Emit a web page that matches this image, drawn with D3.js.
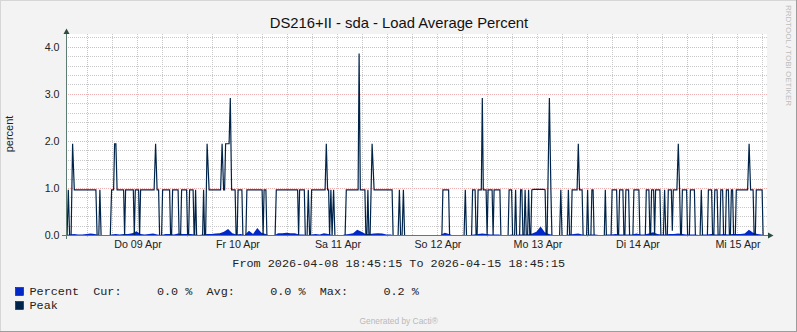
<!DOCTYPE html>
<html><head><meta charset="utf-8">
<script src="https://cdn.jsdelivr.net/npm/d3@7"></script>
<style>html,body{margin:0;padding:0;background:#f3f3f3;overflow:hidden} svg{display:block}</style>
</head><body>
<svg id="c" width="797" height="332"></svg>
<script>
// ---------------- data ----------------
const title = "DS216+II - sda - Load Average Percent";
const yAxisTitle = "percent";
const startTime = Date.UTC(2026, 3, 8, 18, 45, 15);
const endTime = Date.UTC(2026, 3, 15, 18, 45, 15);
const fromToText = "From 2026-04-08 18:45:15 To 2026-04-15 18:45:15";
const dayLabels = ["Do 09 Apr", "Fr 10 Apr", "Sa 11 Apr", "So 12 Apr", "Mo 13 Apr", "Di 14 Apr", "Mi 15 Apr"];
const yTickValues = [0, 1, 2, 3, 4];
const yTickLabels = ["0.0", "1.0", "2.0", "3.0", "4.0"];
const yMax = 4.25;
const seriesNames = ["Percent", "Peak"];
const statLabels = ["Cur:", "Avg:", "Max:"];
const statValues = [0.0, 0.0, 0.2];
const creditText = "Generated by Cacti\u00AE";
const sideText = "RRDTOOL / TOBI OETIKER";

// Peak series: hours since start -> value
const peakHours = [
  0.00, 0.36, 0.65, 0.96, 1.32, 1.68, 2.09, 7.27, 7.56, 7.97, 8.23, 8.52, 10.73, 11.04, 11.52, 11.76, 12.07, 12.36,
  13.92, 14.16, 14.40, 16.25, 16.49, 16.73, 17.52, 17.76, 18.00, 21.24, 21.60, 21.96, 22.32, 22.56, 23.04, 23.28,
  24.96, 25.20, 25.44, 25.68, 27.00, 27.24, 27.60, 27.84, 29.04, 29.28, 29.52, 29.76, 30.60, 30.84, 30.96, 31.20,
  31.44, 32.88, 33.12, 33.36, 33.60, 33.96, 34.44, 37.20, 37.56, 37.92, 38.16, 38.40, 39.24, 39.53, 39.84, 40.68,
  40.92, 41.16, 41.40, 42.31, 42.55, 43.27, 43.51,
  47.16, 47.40, 47.64, 48.07, 48.31, 50.28, 50.57, 55.68, 55.92, 56.16, 57.29, 57.53, 57.96, 58.25, 58.56, 58.80,
  59.04, 62.28, 62.57, 62.88, 63.12, 63.36, 63.67, 63.96, 64.32, 64.63, 67.08, 67.37, 70.20, 70.44, 70.73, 71.83,
  72.07, 72.31, 72.55, 72.79, 73.08, 73.56, 74.04, 78.36, 78.60, 79.80, 80.11, 80.40, 80.76, 81.07, 81.36, 90.31,
  90.55, 91.92, 92.16,
  95.64, 95.93, 96.22, 97.44, 97.68, 98.28, 98.52, 98.76, 99.00, 99.77, 100.01, 100.25, 100.92, 101.16, 101.40,
  102.36, 102.60, 102.84, 104.23, 104.47, 106.20, 106.44, 107.04, 107.28, 107.76, 108.00, 108.24, 108.96, 109.20,
  109.51, 109.75, 110.04, 110.28, 110.57, 110.88, 111.12, 111.41, 111.65, 111.89, 112.32, 114.72, 115.08, 115.32,
  115.56, 116.11, 116.47, 116.71, 118.56, 118.85, 119.14, 120.41, 120.67, 120.96, 121.32, 121.56, 122.76, 123.05,
  123.34, 123.96, 124.20, 125.04, 125.28, 125.52, 126.07, 126.31, 126.60, 126.84, 129.29, 129.53, 129.79, 130.92,
  131.16, 132.24, 132.48, 132.72, 132.96, 133.75, 133.99, 134.23, 134.47, 135.12, 135.36, 136.15, 136.39, 137.59,
  137.83, 139.13, 139.37, 139.99, 140.23, 140.40, 140.64, 141.12, 141.36, 141.60, 142.63, 142.87, 143.47, 143.76,
  144.05, 144.41, 144.65, 145.37, 145.61, 145.85, 146.71, 147.05, 147.36, 147.60, 147.79, 148.03, 149.04, 149.28,
  149.71, 149.95, 150.91, 151.15, 152.28, 152.57, 152.86, 154.03, 154.27, 155.04, 155.28, 155.57, 155.81, 156.36,
  156.60, 157.01, 157.25, 157.68, 157.92, 158.35, 158.59, 159.07, 159.31, 159.55, 159.79, 160.08, 160.32, 160.73,
  160.97, 163.68, 164.04, 164.40, 165.00, 165.24, 165.53, 165.77, 167.16, 167.40, 168.00
];
const peakValues = [
  0, 0, 0.97, 0, 0, 1.95, 0.97, 0.97, 0, 0, 0.97, 0, 0, 0.97, 0.97, 1.95, 1.95, 0.97,
  0.97, 0, 0.97, 0.97, 0, 0.97, 0.97, 0, 0.97, 0.97, 1.95, 0.97, 0.97, 0, 0, 0.97,
  0.97, 0, 0, 0.97, 0.97, 0, 0, 0.97, 0.97, 0, 0, 0.97, 0.97, 0, 0, 0.97,
  0, 0, 0.97, 0, 0, 1.95, 0.97, 0.97, 1.95, 0.97, 0.97, 1.95, 1.95, 2.92, 0.97, 0.97,
  0, 0, 0.97, 0.97, 0, 0, 0.97,
  0.97, 0, 0.97, 0.97, 0, 0, 0.97, 0.97, 0, 0.97, 0.97, 0, 0, 0.97, 0, 0,
  0.97, 0.97, 1.95, 0.97, 0.97, 0, 0.97, 0, 0.97, 0, 0, 0.97, 0.97, 3.87, 0.97, 0.97,
  0, 0, 0.97, 0, 0, 1.95, 0.97, 0.97, 0, 0, 0.97, 0, 0, 0.97, 0, 0,
  0.97, 0.97, 0,
  0, 0.97, 0, 0, 0.97, 0.97, 0, 0, 0.97, 0.97, 2.92, 0.97, 0.97, 0, 0.97,
  0.97, 0, 0.97, 0.97, 0, 0, 0.97, 0.97, 0, 0, 0.97, 0, 0, 0.97,
  0.97, 0, 0, 0.97, 0, 0, 0.97, 0, 0, 0.97, 0.98, 0.98, 0.97, 0,
  0, 2.92, 0.97, 0, 0, 0.97, 0, 0, 0.97, 0, 0, 0.97, 0.97, 1.95,
  0.97, 0.97, 0, 0, 0.97, 0, 0, 0.97, 0.97, 0, 0, 0.97, 0, 0,
  0.97, 0.97, 0, 0, 0.97, 0.97, 0, 0, 0.97, 0.97, 0, 0, 0.97, 0.97,
  0, 0, 0.97, 0.97, 0, 0, 0.97, 0.97, 0, 0.97, 0.97, 0, 0, 0.97,
  0, 0, 0.97, 0.97, 0.1, 0.97, 0.97, 1.95, 0.97, 0, 0, 0.97, 0.97, 0,
  0, 0.97, 0.97, 0, 0, 0.97, 0, 0, 0.97, 0.97, 0, 0, 0.97, 0.97,
  0, 0, 0.97, 0.97, 0, 0, 0.97, 0.97, 0, 0, 0.97, 0.97, 0, 0,
  0.97, 0.97, 1.95, 0.97, 0.97, 0, 0, 0.97, 0.97, 0, 0
];

// Percent series: one value per hour since start (hour 0 .. 168)
const percentValues = [
  0.01, 0.02, 0.03, 0.02, 0.02, 0.03, 0.04, 0.03, 0.01, 0, 0, 0.02, 0.03, 0.02, 0.03, 0.03, 0.05, 0.09, 0.03, 0.02,
  0.03, 0.04, 0.02, 0.01, 0.03, 0.03, 0.02, 0.04, 0.03, 0.03, 0.03, 0.02, 0.01, 0.02, 0.03, 0.03, 0.04, 0.05, 0.08, 0.14,
  0.05, 0.02, 0.03, 0.01, 0.10, 0.03, 0.16, 0.06, 0.03, 0, 0, 0.05, 0.05, 0.06, 0.05, 0.05, 0.02, 0.02, 0.01, 0.02,
  0.03, 0.02, 0.05, 0.03, 0.01, 0, 0, 0.02, 0.03, 0.05, 0.12, 0.08, 0.03, 0.03, 0.04, 0.05, 0.04, 0.02, 0.02, 0,
  0.01, 0.01, 0, 0, 0, 0, 0, 0, 0, 0, 0.01, 0.06, 0.03, 0, 0, 0, 0.01, 0.01, 0.02, 0.03,
  0.04, 0.03, 0.02, 0.02, 0.02, 0, 0, 0.02, 0.01, 0.02, 0.02, 0.02, 0.04, 0.08, 0.19, 0.07, 0.03, 0.01, 0, 0.01,
  0.01, 0.02, 0.03, 0.04, 0.02, 0.01, 0.02, 0.02, 0.01, 0.01, 0.02, 0.02, 0.03, 0.02, 0.02, 0.02, 0.02, 0.04, 0.02, 0.02,
  0.04, 0.07, 0.03, 0.02, 0.02, 0.03, 0.03, 0.04, 0.03, 0.02, 0.02, 0.02, 0.01, 0.02, 0.02, 0.03, 0.02, 0.02, 0.03, 0.02,
  0.03, 0.03, 0.03, 0.04, 0.12, 0.06, 0.03, 0.02, 0
];

// ---------------- drawing ----------------
const W = 797, H = 332;
const SANS = "'Liberation Sans', Arial, sans-serif";
const MONO = "'Liberation Mono', 'Courier New', monospace";
const COL_PCT = "#0028c8", COL_PEAK = "#00234a";
const hourMs = 3600e3;
const tAt = h => new Date(startTime + h * hourMs);

const svg = d3.select("#c");
const x = d3.scaleUtc().domain([new Date(startTime), new Date(endTime)]).range([65.6, 765.6]);
const y = d3.scaleLinear().domain([0, yMax]).range([235.5, 35.5]);
const crisp = v => Math.floor(v) + 0.5;

svg.append("rect").attr("width", W).attr("height", H).attr("fill", "#f3f3f3");
svg.append("line").attr("x1", 0).attr("x2", W).attr("y1", 0.5).attr("y2", 0.5).attr("stroke", "#d6d6d6");
svg.append("line").attr("x1", 0.5).attr("x2", 0.5).attr("y1", 0).attr("y2", H).attr("stroke", "#d6d6d6");
svg.append("line").attr("x1", 0).attr("x2", W).attr("y1", H - 0.5).attr("y2", H - 0.5).attr("stroke", "#9c9c9c");
svg.append("line").attr("x1", W - 0.5).attr("x2", W - 0.5).attr("y1", 0).attr("y2", H).attr("stroke", "#9c9c9c");

// plot background
svg.append("rect").attr("x", 66).attr("y", 34).attr("width", 701).attr("height", 202).attr("fill", "#ffffff");

const grid = svg.append("g").attr("shape-rendering", "crispEdges").attr("stroke-dasharray", "1,1");
// horizontal minor grid (0.2 steps)
const yMinor = d3.range(1, Math.floor(yMax / 0.2) + 1).map(i => i * 0.2).filter(v => Math.abs(v - Math.round(v)) > 1e-6);
grid.selectAll(".hm").data(yMinor).join("line")
  .attr("x1", 66).attr("x2", 768).attr("y1", d => crisp(y(d))).attr("y2", d => crisp(y(d)))
  .attr("stroke", "#c9c9c9");
// vertical minor grid (6h)
const t0 = new Date(startTime), t1 = new Date(endTime);
const sixHours = d3.utcHour.every(6).range(t0, t1).filter(d => d.getUTCHours() !== 0);
grid.selectAll(".vm").data(sixHours).join("line")
  .attr("x1", d => crisp(x(d))).attr("x2", d => crisp(x(d))).attr("y1", 34).attr("y2", 235)
  .attr("stroke", "#c9c9c9");
// major grids
grid.selectAll(".hM").data(yTickValues.filter(v => v > 0)).join("line")
  .attr("x1", 66).attr("x2", 768).attr("y1", d => crisp(y(d))).attr("y2", d => crisp(y(d)))
  .attr("stroke", "#eeb0b0");
const days = d3.utcDay.range(t0, t1);
grid.selectAll(".vM").data(days).join("line")
  .attr("x1", d => crisp(x(d))).attr("x2", d => crisp(x(d))).attr("y1", 34).attr("y2", 237)
  .attr("stroke", "#eeb0b0");

// Percent area
const pctData = percentValues.map((v, i) => ({ t: tAt(i), v }));
svg.append("path").datum(pctData)
  .attr("d", d3.area().x(d => x(d.t)).y0(y(0)).y1(d => y(d.v)))
  .attr("fill", COL_PCT);

// Peak line
const peakData = peakHours.map((h, i) => ({ t: tAt(h), v: peakValues[i] }));
svg.append("path").datum(peakData)
  .attr("d", d3.line().x(d => x(d.t)).y(d => y(d.v)))
  .attr("fill", "none").attr("stroke", COL_PEAK).attr("stroke-width", 1.2).attr("stroke-linejoin", "miter");

// axes
const axisG = svg.append("g").attr("shape-rendering", "crispEdges");
axisG.append("line").attr("x1", 62).attr("x2", 768).attr("y1", 235.5).attr("y2", 235.5).attr("stroke", "#5e7b72");
axisG.append("line").attr("x1", 66.5).attr("x2", 66.5).attr("y1", 239).attr("y2", 33).attr("stroke", "#5e7b72");
svg.append("path").attr("d", "M66.5,28.5 L69.5,34 L63.5,34 Z").attr("fill", "#2c4d43");
svg.append("path").attr("d", "M773.5,235.5 L768,232.5 L768,238.5 Z").attr("fill", "#2c4d43");

// y tick labels
svg.selectAll(".yl").data(yTickValues).join("text")
  .attr("x", 59.5).attr("y", d => crisp(y(d)) + 3.4)
  .attr("text-anchor", "end").attr("font-family", SANS).attr("font-size", 10.7).attr("fill", "#222")
  .text((d, i) => yTickLabels[i]);

// x day labels (centered at noon)
svg.selectAll(".xl").data(days).join("text")
  .attr("x", d => x(new Date(d.getTime() + 12 * hourMs)) + 0.5).attr("y", 248.3)
  .attr("text-anchor", "middle").attr("font-family", SANS).attr("font-size", 10.7).attr("fill", "#222")
  .text((d, i) => dayLabels[i]);

// y axis title
svg.append("text").attr("transform", "translate(13,134) rotate(-90)")
  .attr("text-anchor", "middle").attr("font-family", SANS).attr("font-size", 11).attr("fill", "#222")
  .text(yAxisTitle);

// title
svg.append("text").attr("x", 399).attr("y", 28).attr("text-anchor", "middle")
  .attr("font-family", SANS).attr("font-size", 14.8).attr("fill", "#111").text(title);

// side text
svg.append("text").attr("transform", "translate(785.5,5) rotate(90)")
  .attr("font-family", SANS).attr("font-size", 8).attr("fill", "#bdbdbd").text(sideText);

// from/to
svg.append("text").attr("x", 398.7).attr("y", 266.5).attr("text-anchor", "middle")
  .attr("font-family", MONO).attr("font-size", 11.8).attr("fill", "#222")
  .style("white-space", "pre").text(fromToText);

// legend
const legendRows = [
  seriesNames[0] + "  " + statLabels.map((l, i) => l + statValues[i].toFixed(1).padStart(8) + " %").join("  "),
  seriesNames[1]
];
const legendColors = [COL_PCT, COL_PEAK];
const lg = svg.append("g");
lg.selectAll("rect").data(legendRows).join("rect")
  .attr("x", 15.5).attr("y", (d, i) => 287.5 + i * 14).attr("width", 8).attr("height", 8)
  .attr("fill", (d, i) => legendColors[i]).attr("stroke", "#1a1a1a").attr("stroke-width", 0.6);
lg.selectAll("text").data(legendRows).join("text")
  .attr("x", 29.5).attr("y", (d, i) => 295 + i * 14)
  .attr("font-family", MONO).attr("font-size", 11.8).attr("fill", "#222")
  .style("white-space", "pre").text(d => d);

// credit
svg.append("text").attr("x", 398.7).attr("y", 324).attr("text-anchor", "middle")
  .attr("font-family", SANS).attr("font-size", 8.4).attr("fill", "#b9b9b9").text(creditText);
</script>
</body></html>
